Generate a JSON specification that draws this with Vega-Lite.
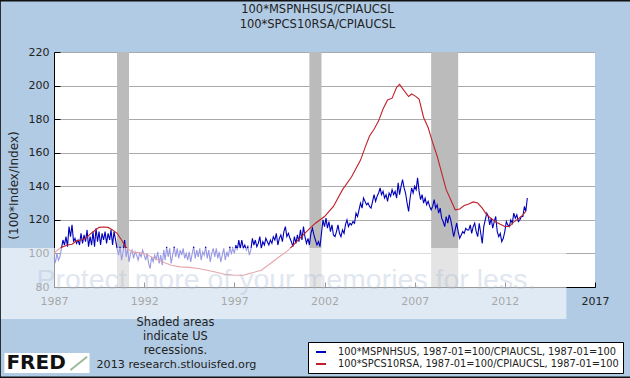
{"$schema":"https://vega.github.io/schema/vega-lite/v6.json","width":541,"height":235,"autosize":{"type":"none"},"padding":{"left":54,"top":52,"right":35,"bottom":91},"background":"#b1cbe4","view":{"fill":"#ffffff","stroke":null},
"config":{"font":"DejaVu Sans"},
"datasets":{
"recessions":[{"start":"1990-07-01","end":"1991-03-01"},{"start":"2001-03-01","end":"2001-11-01"},{"start":"2007-12-01","end":"2009-06-01"}],
"series":[
{"d":"1987-01","s":"b","v":97},{"d":"1987-02","s":"b","v":95},{"d":"1987-03","s":"b","v":100},{"d":"1987-04","s":"b","v":96},{"d":"1987-05","s":"b","v":98},{"d":"1987-06","s":"b","v":103},{"d":"1987-07","s":"b","v":108},{"d":"1987-08","s":"b","v":105},{"d":"1987-09","s":"b","v":110},{"d":"1987-10","s":"b","v":104},{"d":"1987-11","s":"b","v":116},{"d":"1987-12","s":"b","v":110},
{"d":"1988-01","s":"b","v":117},{"d":"1988-02","s":"b","v":107},{"d":"1988-03","s":"b","v":109},{"d":"1988-04","s":"b","v":106},{"d":"1988-05","s":"b","v":108},{"d":"1988-06","s":"b","v":105},{"d":"1988-07","s":"b","v":112},{"d":"1988-08","s":"b","v":106},{"d":"1988-09","s":"b","v":111},{"d":"1988-10","s":"b","v":107},{"d":"1988-11","s":"b","v":114},{"d":"1988-12","s":"b","v":104},
{"d":"1989-01","s":"b","v":110},{"d":"1989-02","s":"b","v":105},{"d":"1989-03","s":"b","v":113},{"d":"1989-04","s":"b","v":104},{"d":"1989-05","s":"b","v":115},{"d":"1989-06","s":"b","v":107},{"d":"1989-07","s":"b","v":113},{"d":"1989-08","s":"b","v":105},{"d":"1989-09","s":"b","v":112},{"d":"1989-10","s":"b","v":108},{"d":"1989-11","s":"b","v":113},{"d":"1989-12","s":"b","v":106},
{"d":"1990-01","s":"b","v":112},{"d":"1990-02","s":"b","v":108},{"d":"1990-03","s":"b","v":114},{"d":"1990-04","s":"b","v":105},{"d":"1990-05","s":"b","v":113},{"d":"1990-06","s":"b","v":108},{"d":"1990-07","s":"b","v":103},{"d":"1990-08","s":"b","v":99},{"d":"1990-09","s":"b","v":104},{"d":"1990-10","s":"b","v":96},{"d":"1990-11","s":"b","v":101},{"d":"1990-12","s":"b","v":108},
{"d":"1991-01","s":"b","v":98},{"d":"1991-02","s":"b","v":103},{"d":"1991-03","s":"b","v":95},{"d":"1991-04","s":"b","v":100},{"d":"1991-05","s":"b","v":102},{"d":"1991-06","s":"b","v":97},{"d":"1991-07","s":"b","v":101},{"d":"1991-08","s":"b","v":99},{"d":"1991-09","s":"b","v":96},{"d":"1991-10","s":"b","v":100},{"d":"1991-11","s":"b","v":98},{"d":"1991-12","s":"b","v":102},
{"d":"1992-01","s":"b","v":99},{"d":"1992-02","s":"b","v":96},{"d":"1992-03","s":"b","v":100},{"d":"1992-04","s":"b","v":94},{"d":"1992-05","s":"b","v":91},{"d":"1992-06","s":"b","v":98},{"d":"1992-07","s":"b","v":95},{"d":"1992-08","s":"b","v":99},{"d":"1992-09","s":"b","v":96},{"d":"1992-10","s":"b","v":101},{"d":"1992-11","s":"b","v":94},{"d":"1992-12","s":"b","v":99},
{"d":"1993-01","s":"b","v":93},{"d":"1993-02","s":"b","v":102},{"d":"1993-03","s":"b","v":96},{"d":"1993-04","s":"b","v":104},{"d":"1993-05","s":"b","v":98},{"d":"1993-06","s":"b","v":103},{"d":"1993-07","s":"b","v":94},{"d":"1993-08","s":"b","v":99},{"d":"1993-09","s":"b","v":104},{"d":"1993-10","s":"b","v":98},{"d":"1993-11","s":"b","v":103},{"d":"1993-12","s":"b","v":97},
{"d":"1994-01","s":"b","v":102},{"d":"1994-02","s":"b","v":99},{"d":"1994-03","s":"b","v":103},{"d":"1994-04","s":"b","v":97},{"d":"1994-05","s":"b","v":100},{"d":"1994-06","s":"b","v":96},{"d":"1994-07","s":"b","v":101},{"d":"1994-08","s":"b","v":95},{"d":"1994-09","s":"b","v":100},{"d":"1994-10","s":"b","v":104},{"d":"1994-11","s":"b","v":97},{"d":"1994-12","s":"b","v":102},
{"d":"1995-01","s":"b","v":98},{"d":"1995-02","s":"b","v":103},{"d":"1995-03","s":"b","v":96},{"d":"1995-04","s":"b","v":101},{"d":"1995-05","s":"b","v":99},{"d":"1995-06","s":"b","v":104},{"d":"1995-07","s":"b","v":97},{"d":"1995-08","s":"b","v":102},{"d":"1995-09","s":"b","v":95},{"d":"1995-10","s":"b","v":100},{"d":"1995-11","s":"b","v":103},{"d":"1995-12","s":"b","v":98},
{"d":"1996-01","s":"b","v":103},{"d":"1996-02","s":"b","v":97},{"d":"1996-03","s":"b","v":101},{"d":"1996-04","s":"b","v":95},{"d":"1996-05","s":"b","v":99},{"d":"1996-06","s":"b","v":103},{"d":"1996-07","s":"b","v":96},{"d":"1996-08","s":"b","v":101},{"d":"1996-09","s":"b","v":98},{"d":"1996-10","s":"b","v":104},{"d":"1996-11","s":"b","v":100},{"d":"1996-12","s":"b","v":103},
{"d":"1997-01","s":"b","v":100},{"d":"1997-02","s":"b","v":105},{"d":"1997-03","s":"b","v":102},{"d":"1997-04","s":"b","v":108},{"d":"1997-05","s":"b","v":103},{"d":"1997-06","s":"b","v":108},{"d":"1997-07","s":"b","v":103},{"d":"1997-08","s":"b","v":105},{"d":"1997-09","s":"b","v":102},{"d":"1997-10","s":"b","v":104},{"d":"1997-11","s":"b","v":99},{"d":"1997-12","s":"b","v":102},
{"d":"1998-01","s":"b","v":109},{"d":"1998-02","s":"b","v":105},{"d":"1998-03","s":"b","v":108},{"d":"1998-04","s":"b","v":104},{"d":"1998-05","s":"b","v":106},{"d":"1998-06","s":"b","v":110},{"d":"1998-07","s":"b","v":103},{"d":"1998-08","s":"b","v":107},{"d":"1998-09","s":"b","v":105},{"d":"1998-10","s":"b","v":109},{"d":"1998-11","s":"b","v":107},{"d":"1998-12","s":"b","v":105},
{"d":"1999-01","s":"b","v":108},{"d":"1999-02","s":"b","v":106},{"d":"1999-03","s":"b","v":110},{"d":"1999-04","s":"b","v":108},{"d":"1999-05","s":"b","v":112},{"d":"1999-06","s":"b","v":105},{"d":"1999-07","s":"b","v":109},{"d":"1999-08","s":"b","v":111},{"d":"1999-09","s":"b","v":107},{"d":"1999-10","s":"b","v":113},{"d":"1999-11","s":"b","v":116},{"d":"1999-12","s":"b","v":110},
{"d":"2000-01","s":"b","v":112},{"d":"2000-02","s":"b","v":109},{"d":"2000-03","s":"b","v":107},{"d":"2000-04","s":"b","v":104},{"d":"2000-05","s":"b","v":110},{"d":"2000-06","s":"b","v":106},{"d":"2000-07","s":"b","v":111},{"d":"2000-08","s":"b","v":107},{"d":"2000-09","s":"b","v":114},{"d":"2000-10","s":"b","v":108},{"d":"2000-11","s":"b","v":116},{"d":"2000-12","s":"b","v":110},
{"d":"2001-01","s":"b","v":106},{"d":"2001-02","s":"b","v":109},{"d":"2001-03","s":"b","v":105},{"d":"2001-04","s":"b","v":112},{"d":"2001-05","s":"b","v":115},{"d":"2001-06","s":"b","v":111},{"d":"2001-07","s":"b","v":108},{"d":"2001-08","s":"b","v":105},{"d":"2001-09","s":"b","v":107},{"d":"2001-10","s":"b","v":104},{"d":"2001-11","s":"b","v":112},{"d":"2001-12","s":"b","v":120},
{"d":"2002-01","s":"b","v":116},{"d":"2002-02","s":"b","v":121},{"d":"2002-03","s":"b","v":115},{"d":"2002-04","s":"b","v":119},{"d":"2002-05","s":"b","v":113},{"d":"2002-06","s":"b","v":117},{"d":"2002-07","s":"b","v":111},{"d":"2002-08","s":"b","v":110},{"d":"2002-09","s":"b","v":113},{"d":"2002-10","s":"b","v":117},{"d":"2002-11","s":"b","v":112},{"d":"2002-12","s":"b","v":110},
{"d":"2003-01","s":"b","v":114},{"d":"2003-02","s":"b","v":112},{"d":"2003-03","s":"b","v":117},{"d":"2003-04","s":"b","v":120},{"d":"2003-05","s":"b","v":116},{"d":"2003-06","s":"b","v":118},{"d":"2003-07","s":"b","v":117},{"d":"2003-08","s":"b","v":119},{"d":"2003-09","s":"b","v":118},{"d":"2003-10","s":"b","v":124},{"d":"2003-11","s":"b","v":122},{"d":"2003-12","s":"b","v":126},
{"d":"2004-01","s":"b","v":130},{"d":"2004-02","s":"b","v":127},{"d":"2004-03","s":"b","v":133},{"d":"2004-04","s":"b","v":131},{"d":"2004-05","s":"b","v":129},{"d":"2004-06","s":"b","v":130},{"d":"2004-07","s":"b","v":128},{"d":"2004-08","s":"b","v":127},{"d":"2004-09","s":"b","v":131},{"d":"2004-10","s":"b","v":135},{"d":"2004-11","s":"b","v":131},{"d":"2004-12","s":"b","v":134},
{"d":"2005-01","s":"b","v":136},{"d":"2005-02","s":"b","v":139},{"d":"2005-03","s":"b","v":135},{"d":"2005-04","s":"b","v":137},{"d":"2005-05","s":"b","v":133},{"d":"2005-06","s":"b","v":135},{"d":"2005-07","s":"b","v":131},{"d":"2005-08","s":"b","v":136},{"d":"2005-09","s":"b","v":134},{"d":"2005-10","s":"b","v":138},{"d":"2005-11","s":"b","v":135},{"d":"2005-12","s":"b","v":137},
{"d":"2006-01","s":"b","v":133},{"d":"2006-02","s":"b","v":142},{"d":"2006-03","s":"b","v":135},{"d":"2006-04","s":"b","v":140},{"d":"2006-05","s":"b","v":144},{"d":"2006-06","s":"b","v":139},{"d":"2006-07","s":"b","v":136},{"d":"2006-08","s":"b","v":130},{"d":"2006-09","s":"b","v":125},{"d":"2006-10","s":"b","v":133},{"d":"2006-11","s":"b","v":139},{"d":"2006-12","s":"b","v":136},
{"d":"2007-01","s":"b","v":140},{"d":"2007-02","s":"b","v":138},{"d":"2007-03","s":"b","v":145},{"d":"2007-04","s":"b","v":137},{"d":"2007-05","s":"b","v":132},{"d":"2007-06","s":"b","v":135},{"d":"2007-07","s":"b","v":130},{"d":"2007-08","s":"b","v":133},{"d":"2007-09","s":"b","v":129},{"d":"2007-10","s":"b","v":131},{"d":"2007-11","s":"b","v":128},{"d":"2007-12","s":"b","v":126},
{"d":"2008-01","s":"b","v":128},{"d":"2008-02","s":"b","v":132},{"d":"2008-03","s":"b","v":127},{"d":"2008-04","s":"b","v":129},{"d":"2008-05","s":"b","v":124},{"d":"2008-06","s":"b","v":127},{"d":"2008-07","s":"b","v":121},{"d":"2008-08","s":"b","v":119},{"d":"2008-09","s":"b","v":116},{"d":"2008-10","s":"b","v":122},{"d":"2008-11","s":"b","v":118},{"d":"2008-12","s":"b","v":123},
{"d":"2009-01","s":"b","v":120},{"d":"2009-02","s":"b","v":115},{"d":"2009-03","s":"b","v":110},{"d":"2009-04","s":"b","v":114},{"d":"2009-05","s":"b","v":118},{"d":"2009-06","s":"b","v":113},{"d":"2009-07","s":"b","v":109},{"d":"2009-08","s":"b","v":111},{"d":"2009-09","s":"b","v":113},{"d":"2009-10","s":"b","v":112},{"d":"2009-11","s":"b","v":115},{"d":"2009-12","s":"b","v":114},
{"d":"2010-01","s":"b","v":114},{"d":"2010-02","s":"b","v":117},{"d":"2010-03","s":"b","v":112},{"d":"2010-04","s":"b","v":116},{"d":"2010-05","s":"b","v":118},{"d":"2010-06","s":"b","v":113},{"d":"2010-07","s":"b","v":110},{"d":"2010-08","s":"b","v":118},{"d":"2010-09","s":"b","v":112},{"d":"2010-10","s":"b","v":106},{"d":"2010-11","s":"b","v":116},{"d":"2010-12","s":"b","v":120},
{"d":"2011-01","s":"b","v":124},{"d":"2011-02","s":"b","v":122},{"d":"2011-03","s":"b","v":117},{"d":"2011-04","s":"b","v":121},{"d":"2011-05","s":"b","v":115},{"d":"2011-06","s":"b","v":119},{"d":"2011-07","s":"b","v":122},{"d":"2011-08","s":"b","v":113},{"d":"2011-09","s":"b","v":110},{"d":"2011-10","s":"b","v":112},{"d":"2011-11","s":"b","v":107},{"d":"2011-12","s":"b","v":109},
{"d":"2012-01","s":"b","v":113},{"d":"2012-02","s":"b","v":119},{"d":"2012-03","s":"b","v":117},{"d":"2012-04","s":"b","v":116},{"d":"2012-05","s":"b","v":120},{"d":"2012-06","s":"b","v":118},{"d":"2012-07","s":"b","v":124},{"d":"2012-08","s":"b","v":121},{"d":"2012-09","s":"b","v":123},{"d":"2012-10","s":"b","v":119},{"d":"2012-11","s":"b","v":120},{"d":"2012-12","s":"b","v":122},
{"d":"2013-01","s":"b","v":122},{"d":"2013-02","s":"b","v":128},{"d":"2013-03","s":"b","v":125},{"d":"2013-04","s":"b","v":133},
{"d":"1987-01","s":"r","v":100},{"d":"1987-04","s":"r","v":102.5},{"d":"1987-07","s":"r","v":104},{"d":"1987-10","s":"r","v":105},{"d":"1988-01","s":"r","v":105.5},{"d":"1988-04","s":"r","v":107.5},{"d":"1988-07","s":"r","v":108},{"d":"1988-10","s":"r","v":109},{"d":"1989-01","s":"r","v":111.5},{"d":"1989-04","s":"r","v":113.5},{"d":"1989-07","s":"r","v":115.5},{"d":"1989-10","s":"r","v":115.7},{"d":"1990-01","s":"r","v":115.5},{"d":"1990-04","s":"r","v":114},{"d":"1990-07","s":"r","v":112},{"d":"1990-10","s":"r","v":108},{"d":"1991-01","s":"r","v":103.5},{"d":"1991-04","s":"r","v":101.5},{"d":"1991-07","s":"r","v":100.5},{"d":"1991-10","s":"r","v":100.5},{"d":"1992-01","s":"r","v":100},{"d":"1992-07","s":"r","v":97.5},{"d":"1993-01","s":"r","v":95},{"d":"1993-07","s":"r","v":93},{"d":"1994-01","s":"r","v":92},{"d":"1994-07","s":"r","v":91.7},{"d":"1995-01","s":"r","v":91},{"d":"1995-07","s":"r","v":90},{"d":"1996-01","s":"r","v":88.8},{"d":"1996-07","s":"r","v":87.5},{"d":"1997-01","s":"r","v":87},{"d":"1997-07","s":"r","v":87},{"d":"1998-01","s":"r","v":88.5},{"d":"1998-07","s":"r","v":90},{"d":"1999-01","s":"r","v":94},{"d":"1999-07","s":"r","v":98},{"d":"2000-01","s":"r","v":102},{"d":"2000-07","s":"r","v":107.5},{"d":"2001-01","s":"r","v":113},{"d":"2001-07","s":"r","v":118},{"d":"2002-01","s":"r","v":122},{"d":"2002-07","s":"r","v":128},{"d":"2003-01","s":"r","v":138},{"d":"2003-07","s":"r","v":145.5},{"d":"2004-01","s":"r","v":155.6},{"d":"2004-04","s":"r","v":163},{"d":"2004-07","s":"r","v":170},{"d":"2004-10","s":"r","v":174},{"d":"2005-01","s":"r","v":179},{"d":"2005-04","s":"r","v":186},{"d":"2005-07","s":"r","v":191.4},{"d":"2005-10","s":"r","v":192.5},{"d":"2006-01","s":"r","v":199},{"d":"2006-03","s":"r","v":200.7},{"d":"2006-06","s":"r","v":197},{"d":"2006-09","s":"r","v":193.5},{"d":"2006-11","s":"r","v":195},{"d":"2007-01","s":"r","v":194},{"d":"2007-04","s":"r","v":192},{"d":"2007-07","s":"r","v":181},{"d":"2007-10","s":"r","v":175},{"d":"2008-01","s":"r","v":166},{"d":"2008-04","s":"r","v":158},{"d":"2008-07","s":"r","v":148},{"d":"2008-10","s":"r","v":138},{"d":"2009-01","s":"r","v":132},{"d":"2009-04","s":"r","v":126},{"d":"2009-07","s":"r","v":126.5},{"d":"2009-10","s":"r","v":128.5},{"d":"2010-01","s":"r","v":129.5},{"d":"2010-04","s":"r","v":130.7},{"d":"2010-07","s":"r","v":130},{"d":"2010-10","s":"r","v":127},{"d":"2011-01","s":"r","v":123},{"d":"2011-07","s":"r","v":118.7},{"d":"2012-01","s":"r","v":116},{"d":"2012-04","s":"r","v":116},{"d":"2012-07","s":"r","v":118.8},{"d":"2012-10","s":"r","v":120.5},{"d":"2013-01","s":"r","v":123},{"d":"2013-03","s":"r","v":125}
]},
"layer":[
{"data":{"name":"recessions"},"mark":{"type":"rect","color":"#bbbbbb"},"encoding":{
"x":{"field":"start","type":"temporal","scale":{"domain":["1987-01-01","2017-01-01"]},"axis":{"format":"%Y","values":["1987-01-01","1992-01-01","1997-01-01","2002-01-01","2007-01-01","2012-01-01","2017-01-01"],"title":null,"grid":false,"domainColor":"#000000","tickColor":"#000000","tickSize":-5,"labelPadding":13,"labelFontSize":11,"labelColor":"#222222","labelFont":"DejaVu Sans","labelAngle":0,"labelFlush":false,"labelOverlap":false}},
"x2":{"field":"end"},
"y":{"datum":220,"type":"quantitative","scale":{"domain":[80,220],"nice":false}},
"y2":{"datum":80}}},
{"data":{"name":"series"},"mark":{"type":"line","strokeWidth":1.1,"interpolate":"linear"},"encoding":{
"x":{"field":"d","type":"temporal"},"y":{"field":"v","type":"quantitative","axis":{"values":[80,100,120,140,160,180,200,220],"tickCount":8,"labelOverlap":false,"labelBound":false,"title":"(100*Index/Index)","titleFontSize":12,"titleFontWeight":"normal","titleColor":"#222222","titleFont":"DejaVu Sans","titleX":-34,"titleY":133,"grid":true,"gridColor":"#aaaaaa","domainColor":"#000000","tickColor":"#000000","tickSize":-6,"labelPadding":11,"labelFontSize":11,"labelColor":"#222222","labelFont":"DejaVu Sans"}},
"color":{"field":"s","type":"nominal","scale":{"domain":["b","r"],"range":["#0000bb","#c0202c"]},"legend":{"orient":"none","legendX":254,"legendY":290,"title":null,"fillColor":"#ffffff","strokeColor":"#000000","labelExpr":"datum.label=='b'?'100*MSPNHSUS, 1987-01=100/CPIAUCSL, 1987-01=100':'100*SPCS10RSA, 1987-01=100/CPIAUCSL, 1987-01=100'","labelFont":"DejaVu Sans","labelFontSize":9.8,"labelColor":"#222222","labelLimit":320,"symbolType":"stroke","symbolStrokeWidth":2,"symbolSize":100,"symbolOffset":3,"padding":4,"rowPadding":1,"labelOffset":11}}}},
{"data":{"values":[{}]},"mark":{"type":"rect","color":"#ffffff","opacity":0.6},"encoding":{"x":{"datum":{"year":1983,"month":12,"date":25},"type":"temporal"},"x2":{"datum":{"year":2015,"month":6,"date":1}},"y":{"datum":103.2,"type":"quantitative"},"y2":{"datum":60.9}}},
{"data":{"values":[{"label":"Protect more of your memories for less."}]},"mark":{"type":"text","align":"left","baseline":"alphabetic","font":"Liberation Sans","fontSize":28.5,"color":"#a9bcd6","opacity":0.35},"encoding":{"x":{"datum":{"year":1986,"month":1,"date":10},"type":"temporal"},"y":{"datum":78.8,"type":"quantitative"},"text":{"field":"label"}}},
{"data":{"values":[{"label":"100*MSPNHSUS/CPIAUCSL","row":245},{"label":"100*SPCS10RSA/CPIAUCSL","row":236.1}]},"mark":{"type":"text","align":"center","baseline":"middle","font":"DejaVu Sans","fontSize":11.5,"color":"#222222"},"encoding":{"x":{"datum":{"year":2001,"month":8,"date":10},"type":"temporal"},"y":{"field":"row","type":"quantitative"},"text":{"field":"label"}}},
{"data":{"values":[{"label":"Shaded areas","row":58.6},{"label":"indicate US","row":50.2},{"label":"recessions.","row":41.9}]},"mark":{"type":"text","align":"center","baseline":"middle","font":"DejaVu Sans","fontSize":11.4,"color":"#222222"},"encoding":{"x":{"datum":{"year":1993,"month":9,"date":25},"type":"temporal"},"y":{"field":"row","type":"quantitative"},"text":{"field":"label"}}},
{"data":{"values":[{"label":"2013 research.stlouisfed.org"}]},"mark":{"type":"text","align":"left","baseline":"middle","font":"DejaVu Sans","fontSize":11.2,"color":"#222222"},"encoding":{"x":{"datum":{"year":1989,"month":5,"date":10},"type":"temporal"},"y":{"datum":33.5,"type":"quantitative"},"text":{"field":"label"}}},
{"data":{"values":[{}]},"mark":{"type":"rect","color":"#ffffff"},"encoding":{"x":{"datum":{"year":1984,"month":4,"date":2},"type":"temporal"},"x2":{"datum":{"year":1988,"month":12,"date":20}},"y":{"datum":40.7,"type":"quantitative"},"y2":{"datum":28.8}}},
{"data":{"values":[{"label":"FRED"}]},"mark":{"type":"text","align":"left","baseline":"middle","font":"DejaVu Sans","fontWeight":"bold","fontSize":20,"color":"#111111"},"encoding":{"x":{"datum":{"year":1984,"month":5,"date":13},"type":"temporal"},"y":{"datum":34.7,"type":"quantitative"},"text":{"field":"label"}}},
{"data":{"values":[{}]},"mark":{"type":"rule","color":"#9fb89a","strokeWidth":2},"encoding":{"x":{"datum":{"year":1987,"month":12,"date":1},"type":"temporal"},"x2":{"datum":{"year":1988,"month":11,"date":1}},"y":{"datum":30.5,"type":"quantitative"},"y2":{"datum":38.5}}},
{"data":{"values":[{}]},"mark":{"type":"rect","fill":null,"stroke":"#111111","strokeWidth":1.5},"encoding":{"x":{"datum":{"year":1984,"month":1,"date":5},"type":"temporal"},"x2":{"datum":{"year":2019,"month":8,"date":1}},"y":{"datum":250.6,"type":"quantitative"},"y2":{"datum":26.2}}}
]}
